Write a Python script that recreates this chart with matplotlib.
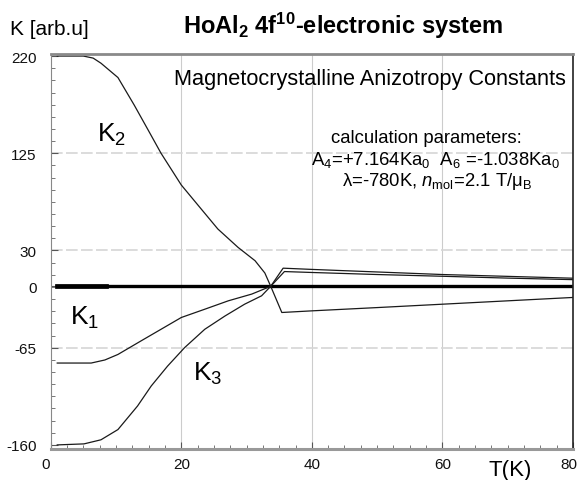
import numpy as np
import matplotlib
matplotlib.use("Agg")
import matplotlib.pyplot as plt
import matplotlib.transforms as mtransforms
from matplotlib.ticker import FixedLocator

plt.rcParams['font.family'] = ['Liberation Sans', 'DejaVu Sans']
plt.rcParams['mathtext.fontset'] = 'custom'
plt.rcParams['mathtext.rm'] = 'Liberation Sans'
plt.rcParams['mathtext.it'] = 'Liberation Sans:italic'
plt.rcParams['mathtext.bf'] = 'Liberation Sans:bold'

# data (T in K, K in arb. units)
ZERO = -5.0                     # level of the thick reference line
k2_T = [1, 5, 6.5, 7.7, 9, 10.3, 12.8, 14.9, 16.9, 20, 22.6, 25.6, 28.7, 31.3, 32.8, 33.7,
        35.4, 40, 50, 60, 70, 80]
k2_v = [220, 220, 218, 213, 206, 199, 172, 148, 125, 94, 74, 51, 33, 20, 8, -5,
        -30.6, -29, -25.8, -22.5, -19.2, -15.9]
k1_T = [1, 6.2, 8.3, 10.3, 13.8, 16.9, 20, 23.6, 27.2, 30.8, 33.7, 35.8, 40, 50, 60, 70, 80]
k1_v = [-80, -80, -77, -71.6, -58.5, -47, -35.5, -27.4, -19.2, -12.6, -5, 9.4, 8.5, 6.5, 4.8, 3, 1.5]
k3_T = [1, 5.1, 7.7, 10.3, 13.3, 15.4, 17.9, 20.5, 23.6, 26.7, 29.7, 32.3, 33.7,
        35.6, 40, 50, 60, 70, 80]
k3_v = [-160, -159, -155, -145, -122, -102.4, -83, -65, -47, -34, -22.5, -14.3, -5,
        12.7, 11.5, 9, 6.5, 4.7, 2.9]

ytick_vals = [220, 125, 30, ZERO, -65, -160]
ytick_labels = ['220', '125', '30', '0', '-65', '-160']
xtick_vals = [0, 20, 40, 60, 80]

W, H = 577, 481
fig = plt.figure(figsize=(W/100, H/100), dpi=100)
ax = fig.add_axes([50.7/W, 1-450/H, (573-50.7)/W, (450-55)/H])
ax.set_xlim(0, 80)
ax.set_ylim(-164, 222)

# grid
for t in [20, 40, 60]:
    ax.axvline(t, color='#cccccc', lw=0.8, zorder=0)
for v in [125, 30, -65]:
    ax.axhline(v, color='#d6d6d6', lw=1.2, dashes=(7, 2), zorder=0)

# reference line
ax.plot([1, 80], [ZERO, ZERO], color='black', lw=2.4)
ax.plot([1, 8.5], [ZERO, ZERO], color='black', lw=3.4)

lc = '#1a1a1a'
ax.plot(k2_T, k2_v, color=lc, lw=0.9)
ax.plot(k1_T, k1_v, color=lc, lw=0.9)
ax.plot(k3_T, k3_v, color=lc, lw=0.9)

# ticks
ax.yaxis.set_major_locator(FixedLocator(ytick_vals))
ax.set_yticklabels(ytick_labels)
ax.yaxis.set_minor_locator(FixedLocator(np.arange(-160, 221, 95/8)))
ax.set_xticks(xtick_vals)
ax.xaxis.set_minor_locator(FixedLocator(np.arange(0, 80.1, 2.5)))
ax.tick_params(which='major', direction='in', length=5, width=0.8, color='#555555',
               labelsize=11, labelcolor='#111111')
ax.tick_params(which='minor', direction='in', length=3, width=0.7, color='#777777')
ax.tick_params(axis='y', which='major', pad=10)
ax.tick_params(axis='x', which='major', pad=6)

# end labels of the x axis sit a little to the left
xlabels = ax.get_xticklabels()
for lab, dx in [(xlabels[0], -5), (xlabels[-1], -4)]:
    lab.set_transform(lab.get_transform() +
                      mtransforms.ScaledTranslation(dx/100, 0, fig.dpi_scale_trans))

# frame
ax.spines['top'].set_color('#8a8a8a')
ax.spines['top'].set_linewidth(2)
ax.spines['bottom'].set_color('#999999')
ax.spines['bottom'].set_linewidth(2.2)
ax.spines['left'].set_color('#888888')
ax.spines['left'].set_linewidth(0.8)
ax.spines['right'].set_color('#222222')
ax.spines['right'].set_linewidth(1.2)

# curve labels
ax.text(7.06, 137, 'K$_2$', fontsize=19, va='baseline', ha='left')
ax.text(2.96, -42, 'K$_1$', fontsize=19, va='baseline', ha='left')
ax.text(21.8, -96, 'K$_3$', fontsize=19, va='baseline', ha='left')

# texts
fig.text(49.6/W, 1-35/H, 'K [arb.u]', fontsize=15, ha='center', va='baseline')
fig.text(343.5/W, 1-33.8/H, r'HoAl$_\mathbf{2}$ 4f$^\mathbf{10}$-electronic system',
         fontsize=17, fontweight='bold', ha='center', va='baseline')
fig.text(370/W, 1-85/H, 'Magnetocrystalline Anizotropy Constants', fontsize=15.7,
         ha='center', va='baseline')
fig.text(522/W, 1-143/H, 'calculation parameters:', fontsize=13.3, ha='right', va='baseline')
fig.text(560/W, 1-165/H, r'A$_4$=+7.164Ka$_0$  A$_6$ =-1.038Ka$_0$', fontsize=13.3,
         ha='right', va='baseline')
fig.text(532/W, 1-186/H, r'λ=-780K, $\it{n}_\mathrm{mol}$=2.1 T/μ$_\mathrm{B}$', fontsize=13.3,
         ha='right', va='baseline')
fig.text(510/W, 1-476/H, 'T(K)', fontsize=16, ha='center', va='baseline')

fig.savefig('out.png', dpi=100)
